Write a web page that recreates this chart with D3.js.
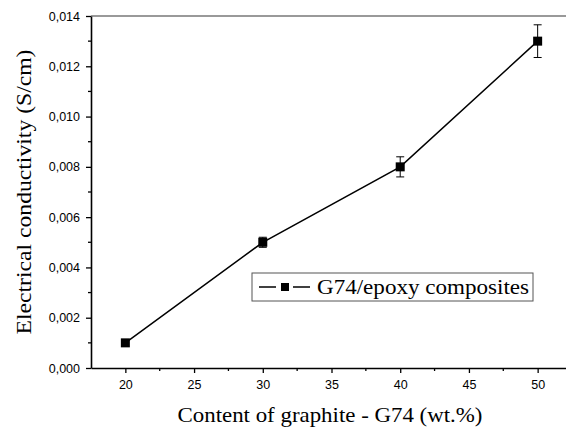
<!DOCTYPE html>
<html>
<head>
<meta charset="utf-8">
<script src="https://cdn.jsdelivr.net/npm/d3@7"></script>
<style>
  body { margin: 0; background: #fff; }
</style>
</head>
<body>
<div id="chart"></div>
<script>
// data
var content = [20, 30, 40, 50];
var conductivity = [0.001, 0.005, 0.008, 0.013];
var errors = [0, 0.0002, 0.0004, 0.00065];
var yTicks = [0, 0.002, 0.004, 0.006, 0.008, 0.010, 0.012, 0.014];
var xTicks = [20, 25, 30, 35, 40, 45, 50];
var seriesName = "G74/epoxy composites";

var SERIF = "'Liberation Serif'";
var SANS = "'Liberation Sans'";

var W = 566, H = 429;
var margin = {top: 16, left: 91, bottom: 61},
    height = H - margin.top - margin.bottom;

var svg = d3.select("#chart").append("svg")
    .attr("width", W)
    .attr("height", H);

var x = d3.scaleLinear().domain([17.5, 52.5]).range([margin.left, margin.left + 481]);
var y = d3.scaleLinear().domain([0, 0.014]).range([margin.top + height, margin.top]);

var fmt = function(d) { return d3.format(".3f")(d).replace(".", ","); };

// top frame line
svg.append("line")
    .attr("x1", x(17.5)).attr("x2", x(52.5))
    .attr("y1", y(0.014)).attr("y2", y(0.014))
    .attr("stroke", "#777").attr("stroke-width", 1.5);

// x axis
var gx = svg.append("g")
    .attr("transform", "translate(0," + y(0) + ")")
    .call(d3.axisBottom(x).tickValues(xTicks).tickSize(5).tickSizeOuter(0).tickPadding(7));
gx.append("g").selectAll("line")
    .data(d3.range(22.5, 52.5, 5))
    .enter().append("line")
    .attr("x1", function(d) { return x(d); }).attr("x2", function(d) { return x(d); })
    .attr("y1", 0).attr("y2", 3)
    .attr("stroke", "#000").attr("stroke-width", 1.3);

// y axis
var gy = svg.append("g")
    .attr("transform", "translate(" + x(17.5) + ",0)")
    .call(d3.axisLeft(y).tickValues(yTicks).tickFormat(fmt).tickSize(5).tickSizeOuter(0).tickPadding(6));
gy.append("g").selectAll("line")
    .data(d3.range(0.001, 0.014, 0.002))
    .enter().append("line")
    .attr("y1", function(d) { return y(d); }).attr("y2", function(d) { return y(d); })
    .attr("x1", 0).attr("x2", -3)
    .attr("stroke", "#000").attr("stroke-width", 1.3);

[gx, gy].forEach(function(g) {
  g.select(".domain").attr("stroke-width", 1.6);
  g.selectAll(".tick line").attr("stroke-width", 1.3);
  g.selectAll(".tick text")
    .style("font-family", SANS)
    .style("font-size", "12.5px")
    .attr("fill", "#000");
});

// axis titles
svg.append("text")
    .attr("x", 330).attr("y", 422)
    .attr("text-anchor", "middle")
    .attr("textLength", 305).attr("lengthAdjust", "spacingAndGlyphs")
    .style("font-family", SERIF)
    .style("font-size", "21px")
    .text("Content of graphite - G74 (wt.%)");

svg.append("text")
    .attr("transform", "translate(31," + (margin.top + height / 2) + ") rotate(-90)")
    .attr("text-anchor", "middle")
    .attr("textLength", 285).attr("lengthAdjust", "spacingAndGlyphs")
    .style("font-family", SERIF)
    .style("font-size", "21px")
    .text("Electrical conductivity (S/cm)");

var data = content.map(function(c, i) { return {x: c, y: conductivity[i], e: errors[i]}; });

// line
svg.append("path")
    .datum(data)
    .attr("fill", "none")
    .attr("stroke", "#000")
    .attr("stroke-width", 1.5)
    .attr("d", d3.line().x(function(d) { return x(d.x); }).y(function(d) { return y(d.y); }));

// error bars
var eb = svg.selectAll(".err")
    .data(data.filter(function(d) { return d.e > 0; }))
    .enter().append("g");
eb.append("line")
    .attr("x1", function(d) { return x(d.x); }).attr("x2", function(d) { return x(d.x); })
    .attr("y1", function(d) { return y(d.y - d.e); }).attr("y2", function(d) { return y(d.y + d.e); })
    .attr("stroke", "#000").attr("stroke-width", 1);
[-1, 1].forEach(function(s) {
  eb.append("line")
    .attr("x1", function(d) { return x(d.x) - 4; }).attr("x2", function(d) { return x(d.x) + 4; })
    .attr("y1", function(d) { return y(d.y + s * d.e); }).attr("y2", function(d) { return y(d.y + s * d.e); })
    .attr("stroke", "#000").attr("stroke-width", 1);
});

// markers
svg.selectAll(".pt")
    .data(data)
    .enter().append("rect")
    .attr("x", function(d) { return x(d.x) - 4.5; })
    .attr("y", function(d) { return y(d.y) - 4.5; })
    .attr("width", 9).attr("height", 9)
    .attr("fill", "#000");

// legend
var lg = svg.append("g");
lg.append("rect")
    .attr("x", 252).attr("y", 273).attr("width", 281).attr("height", 28)
    .attr("fill", "#fff").attr("stroke", "#555").attr("stroke-width", 1);
lg.append("line").attr("x1", 259).attr("x2", 276).attr("y1", 287).attr("y2", 287)
    .attr("stroke", "#000").attr("stroke-width", 1.5);
lg.append("line").attr("x1", 293).attr("x2", 310).attr("y1", 287).attr("y2", 287)
    .attr("stroke", "#000").attr("stroke-width", 1.5);
lg.append("rect").attr("x", 281).attr("y", 283).attr("width", 8).attr("height", 8).attr("fill", "#000");
lg.append("text")
    .attr("x", 317).attr("y", 294)
    .attr("textLength", 212).attr("lengthAdjust", "spacingAndGlyphs")
    .style("font-family", SERIF)
    .style("font-size", "21px")
    .text(seriesName);
</script>
</body>
</html>
